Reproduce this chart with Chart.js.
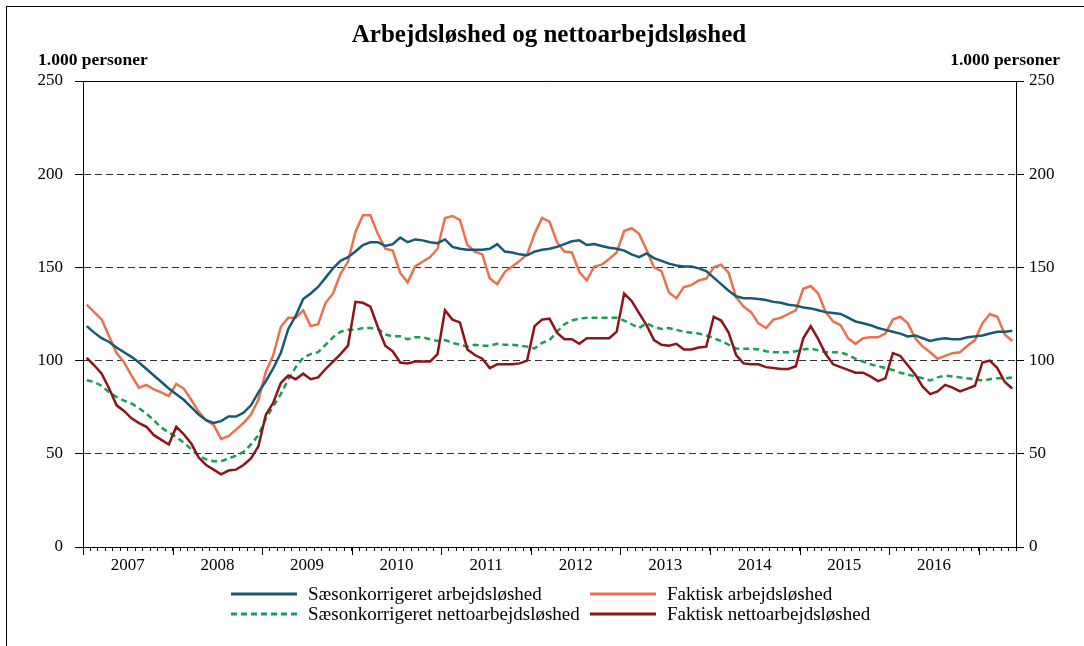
<!DOCTYPE html>
<html>
<head>
<meta charset="utf-8">
<script src="https://cdn.jsdelivr.net/npm/chart.js@4/dist/chart.umd.min.js"></script>
<style>
  body { margin: 0; background: #fff; font-family: "Liberation Serif", serif; }
  #wrap { position: relative; width: 1084px; height: 646px; overflow: hidden; }
  #frame { position: absolute; left: 6px; top: 6px; width: 1200px; height: 800px;
           border-top: 1.5px solid #000; border-left: 1.5px solid #000; }
  #title { position: absolute; left: 0; width: 1098px; top: 20px; text-align: center;
           font-size: 25px; font-weight: bold; color: #000; }
  .unit { position: absolute; top: 49px; font-size: 17.5px; font-weight: bold; color: #000; }
  #legend { position: absolute; left: 231px; top: 584px; font-size: 19px; color: #000; }
  .row { position: relative; height: 20px; white-space: nowrap; }
  .item { position: absolute; top: 0; height: 20px; }
  .item svg { position: absolute; top: 4px; left: 0; }
  .item span { position: absolute; top: 0; line-height: 20px; }
</style>
</head>
<body>
<div id="wrap">
  <div id="frame"></div>
  <canvas id="lineChart" width="1084" height="646" style="position:absolute;left:0;top:0"></canvas>
  <div id="title">Arbejdsløshed og nettoarbejdsløshed</div>
  <div class="unit" style="left:38px">1.000 personer</div>
  <div class="unit" style="right:24px">1.000 personer</div>
  <div id="legend"></div>
</div>
<script>
(function(){
    "use strict";
    // months from Jan 2007 to May 2017
    var years = [2007, 2008, 2009, 2010, 2011, 2012, 2013, 2014, 2015, 2016, 2017];
    var months = [];
    years.forEach(function(y){
        for (var m = 1; m <= 12; m++) {
            if (y === 2017 && m > 5) break;
            months.push(y + "-" + (m < 10 ? "0" + m : m));
        }
    });
    var yTicks = [0, 50, 100, 150, 200, 250];

    var saesonArb = [
        118.5, 115, 112, 110, 107, 104.5, 102, 99, 95.5, 92, 88.5, 85,
        82, 79, 75, 71, 68, 66.5, 67.5, 70, 70, 72, 76, 83,
        89, 96, 104, 117, 124, 133, 136, 139.5, 144.5, 149.5, 153.5, 155.5,
        158.5, 162, 163.5, 163.5, 161.5, 162.5, 166, 163.5, 165, 164.5, 163.5, 163,
        165, 161, 160, 159.5, 159.5, 159.5, 160, 162.5, 158.5, 158, 157, 156.5,
        158.5, 159.5, 160, 161, 162.5, 164, 164.5, 162, 162.5, 161.5, 160.5, 160,
        159, 157, 155.5, 157.5, 155, 153.5, 152, 151, 150.5, 150.5, 149.5, 148,
        144.5, 141, 137.5, 134.5, 133.5, 133.5, 133, 132.5, 131.5, 131, 130, 129.5,
        128.5, 128, 127, 126, 125.5, 125, 123, 121, 120, 119, 117.5, 116.5,
        115.5, 114.5, 113, 113.5, 112, 110.5, 111.5, 112, 111.5, 111.5, 112.5, 113,
        113.5, 114.5, 115.5, 115.5, 116
    ];
    var faktiskArb = [
        130, 126, 122, 113, 104, 99, 92, 85.5, 87, 84.5, 83, 81,
        87.5, 85, 79, 72.5, 68, 65.5, 58, 59.5, 63, 66.5, 71, 79,
        94, 103, 118, 123, 123, 127, 118.5, 119.5, 131, 136, 146.5, 153,
        169, 178, 178, 168, 160, 159, 147, 142, 150.5, 153, 155.5, 160,
        176.5, 177.5, 175.5, 162, 158.5, 157, 144, 141, 147.5, 150.5, 153.5, 157,
        168, 176.5, 174.5, 163.5, 158.5, 158, 147.5, 143, 150.5, 151.5, 154.5, 158,
        169.5, 171, 168, 159.5, 150, 148, 136.5, 133.5, 139.5, 140.5, 143, 144,
        150, 151.5, 147, 134, 129, 126, 120, 117.5, 122, 123, 125, 127,
        138.5, 140, 136, 126, 121, 119, 112, 109, 112, 112.5, 112.5, 114.5,
        122, 123.5, 120, 112, 107.5, 104.5, 101, 102.5, 104, 104.5, 108, 111,
        120, 125, 123.5, 114, 110.5
    ];
    var saesonNetto = [
        89.5, 88.5, 86.5, 83, 80.5, 78.5, 77, 74.5, 71.5, 68, 64, 61.5,
        59, 56, 52.5, 49, 47, 46, 46, 47.5, 49, 51, 55, 60,
        69, 75.5, 82, 90, 96.5, 101.5, 103.5, 104.5, 108.5, 112.5, 115.5, 116.5,
        116.5, 117.5, 117.5, 117, 114, 113, 113, 111.5, 112.5, 112.5, 111.5, 110.5,
        111, 109.5, 108.5, 107.5, 108.5, 108, 108, 109, 108.5, 108.5, 108, 107.5,
        106.5, 109.5, 111, 115.5, 119.5, 121.5, 122.5, 123, 123, 123, 123, 123,
        121.5, 119.5, 117.5, 120, 118, 117, 117.5, 116.5, 115.5, 115, 114.5, 113.5,
        112, 110.5, 108.5, 106.5, 106.3, 106.3, 106, 105, 104.5, 104.5, 104.5, 105,
        106, 106.5, 105.5, 104.5, 104.5, 104.5, 103, 101, 99.5, 98, 97, 96,
        95, 93.5, 92.5, 91.5, 90.5, 89.3, 91, 92, 91.5, 91, 90.5, 90,
        89.3, 90, 90.5, 90.5, 91
    ];
    var faktiskNetto = [
        101.5, 97.5, 93, 85, 76, 73, 69, 66.5, 64.5, 60, 57.5, 55,
        64.5, 60.5, 55.5, 48, 44, 41.5, 39, 41, 41.5, 44, 47.5, 54,
        71, 77.5, 88, 92, 90, 93, 90, 91, 95.5, 99.5, 103.5, 108,
        131.5, 131, 129, 118, 108, 105, 99, 98.5, 99.5, 99.5, 99.5, 103.5,
        127, 122, 120.5, 106, 103, 101, 96, 98, 98, 98, 98.5, 100,
        118.5, 122, 122.5, 115, 111.5, 111.5, 109, 112, 112, 112, 112, 115.5,
        136, 132, 125.5, 119, 111, 108.5, 108, 109, 106, 106, 107, 107.5,
        123.5, 121.5, 115, 103, 98.5, 98, 98, 96.5, 96, 95.5, 95.5, 97,
        112, 118.5, 111.5, 103.5, 98, 96.5, 95, 93.5, 93.5, 91.5, 89, 90.5,
        104, 102.5, 97.5, 92.5, 86, 82, 83.5, 87, 85.5, 83.5, 85, 86.5,
        99, 100, 96, 88.5, 85
    ];

    var names = ["Sæsonkorrigeret arbejdsløshed", "Faktisk arbejdsløshed",
                 "Sæsonkorrigeret nettoarbejdsløshed", "Faktisk nettoarbejdsløshed"];
    var colors = ["#155a72", "#e8714f", "#1a9d55", "#8c141b"];
    var dashes = [[], [], [6, 4], []];
    var series = [saesonArb, faktiskArb, saesonNetto, faktiskNetto];

    var tickFont = { family: "Liberation Serif", size: 17 };

    var frameAndYears = {
        id: "frameAndYears",
        afterDraw: function(chart) {
            var x = chart.scales.x, a = chart.chartArea, ctx = chart.ctx;
            var half = (x.getPixelForValue(1) - x.getPixelForValue(0)) / 2;
            ctx.save();
            ctx.strokeStyle = "#000";
            ctx.lineWidth = 1;
            ctx.setLineDash([]);
            ctx.beginPath();
            ctx.moveTo(a.left, a.top + 0.5);
            ctx.lineTo(a.right, a.top + 0.5);
            for (var i = 0; i < months.length; i += 12) {
                var px = Math.round(x.getPixelForValue(i) - half) + 0.5;
                ctx.moveTo(px, a.bottom);
                ctx.lineTo(px, a.bottom + 8);
            }
            ctx.stroke();
            ctx.restore();
        }
    };

    var chartArea = document.querySelector("#lineChart");
    var lineChart = new Chart(chartArea, {
        type: "line",
        data: {
            labels: months,
            datasets: series.map(function(s, k){
                return {
                    label: names[k],
                    data: s,
                    borderColor: colors[k],
                    backgroundColor: colors[k],
                    borderWidth: 2.5,
                    borderDash: dashes[k],
                    pointRadius: 0,
                    tension: 0,
                    fill: false,
                    order: [1, 2, 3, 0][k]
                };
            })
        },
        options: {
            responsive: false,
            animation: false,
            devicePixelRatio: 1,
            layout: { padding: { top: 81, bottom: 69, left: 0, right: 0 } },
            plugins: { legend: { display: false }, title: { display: false }, tooltip: { enabled: false } },
            scales: {
                x: {
                    type: "category",
                    offset: true,
                    afterFit: function(s){ s.height = 30; },
                    grid: { drawOnChartArea: false, offset: true, tickLength: 4, color: "#000", tickColor: "#000" },
                    border: { color: "#000", width: 1 },
                    ticks: {
                        autoSkip: false, maxRotation: 0, padding: 4,
                        labelOffset: -3.7,
                        color: "#000", font: tickFont,
                        callback: function(v, i){
                            return (i % 12 === 6 && i < 120) ? months[i].slice(0, 4) : "";
                        }
                    }
                },
                y: {
                    position: "left",
                    min: 0, max: 250,
                    afterFit: function(s){ s.width = 83; },
                    afterBuildTicks: function(s){ s.ticks = yTicks.map(function(v){ return { value: v }; }); },
                    grid: {
                        tickLength: 8, tickColor: "#000",
                        color: function(c){ return (c.tick && (c.tick.value === 0 || c.tick.value === 250)) ? "rgba(0,0,0,0)" : "#333"; }
                    },
                    border: { color: "#000", width: 1, dash: [7, 4] },
                    ticks: { padding: 12, color: "#000", font: tickFont }
                },
                y2: {
                    position: "right",
                    min: 0, max: 250,
                    afterFit: function(s){ s.width = 68; },
                    afterBuildTicks: function(s){ s.ticks = yTicks.map(function(v){ return { value: v }; }); },
                    grid: { drawOnChartArea: false, tickLength: 8, tickColor: "#000" },
                    border: { color: "#000", width: 1 },
                    ticks: { padding: 5, color: "#000", font: tickFont }
                }
            }
        },
        plugins: [frameAndYears]
    });

    // legend in two columns, same order as the reference
    var legend = document.querySelector("#legend");
    var rows = [[0, 1], [2, 3]];
    var colX = [0, 359];
    rows.forEach(function(r){
        var row = document.createElement("div");
        row.className = "row";
        r.forEach(function(k, c){
            var item = document.createElement("div");
            item.className = "item";
            item.style.left = colX[c] + "px";
            var dash = dashes[k].length ? ' stroke-dasharray="6 4"' : "";
            item.innerHTML = '<svg width="66" height="12"><line x1="0" y1="6" x2="66" y2="6" stroke="' +
                colors[k] + '" stroke-width="3"' + dash + '/></svg><span style="left:77px">' + names[k] + '</span>';
            row.appendChild(item);
        });
        legend.appendChild(row);
    });
})();
</script>
</body>
</html>
